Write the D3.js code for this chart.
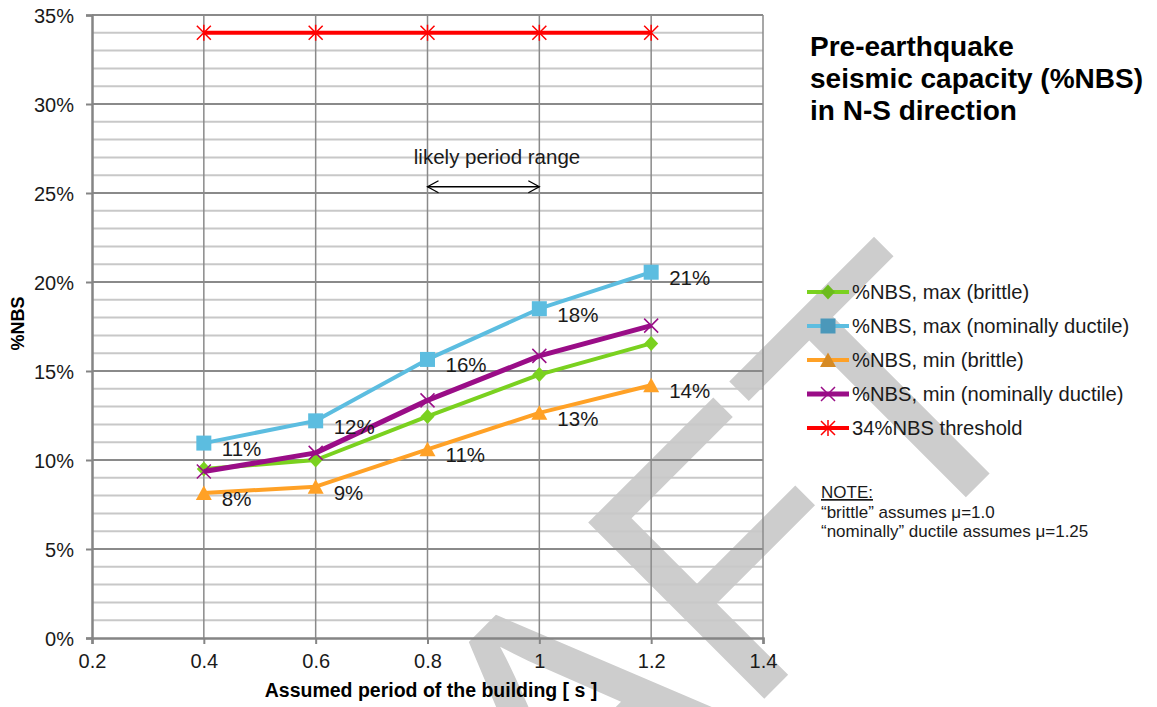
<!DOCTYPE html>
<html>
<head>
<meta charset="utf-8">
<script src="https://cdn.jsdelivr.net/npm/d3@7"></script>
<style>
  body { margin: 0; background: #fff; }
  text { font-family: "Liberation Sans", Arial, sans-serif; }
</style>
</head>
<body>
<svg id="canvas"></svg>
<script>
// data
const periods = [0.4, 0.6, 0.8, 1.0, 1.2];
const maxBrittle = [9.5, 10.0, 12.45, 14.8, 16.55];
const maxDuctile = [10.95, 12.2, 15.65, 18.5, 20.55];
const minBrittle = [8.15, 8.5, 10.6, 12.65, 14.2];
const minDuctile = [9.35, 10.4, 13.35, 15.85, 17.55];
const threshold = [34, 34, 34, 34, 34];
const maxDuctileLabels = ["11%", "12%", "16%", "18%", "21%"];
const minBrittleLabels = ["8%", "9%", "11%", "13%", "14%"];
const xTicks = [0.2, 0.4, 0.6, 0.8, 1.0, 1.2, 1.4];
const yTicks = [0, 5, 10, 15, 20, 25, 30, 35];
const seriesNames = [
    "%NBS, max (brittle)",
    "%NBS, max (nominally ductile)",
    "%NBS, min (brittle)",
    "%NBS, min (nominally ductile)",
    "34%NBS threshold"
];

const width = 1157;
const height = 707;
const svg = d3.select("#canvas").attr("width", width).attr("height", height);

const marginLeft = 92, marginRight = 394, marginTop = 15, marginBottom = 69;

const x = d3.scaleLinear().domain([0.2, 1.4]).range([marginLeft, width - marginRight]);
const y = d3.scaleLinear().domain([0, 35]).range([height - marginBottom, marginTop]);

// DRAFT watermark, sits behind everything
svg.append("text")
    .attr("transform", "translate(1056,407) rotate(-45)")
    .attr("text-anchor", "end")
    .attr("font-size", 362)
    .attr("fill", "#cdcdcd")
    .text("DRAFT");

// gridlines
const grid = svg.append("g");
grid.selectAll("line.h")
    .data(d3.range(1, 36))
    .join("line")
    .attr("x1", x(0.2)).attr("x2", x(1.4))
    .attr("y1", d => y(d)).attr("y2", d => y(d))
    .attr("stroke", d => d % 5 === 0 ? "#8a8a8a" : "#c8c8c8")
    .attr("stroke-width", 2);

grid.selectAll("line.v")
    .data(xTicks.slice(1))
    .join("line")
    .attr("x1", d => x(d)).attr("x2", d => x(d))
    .attr("y1", y(35)).attr("y2", y(0))
    .attr("stroke", "#8a8a8a")
    .attr("stroke-width", 1.5);

// axes
const xAxis = svg.append("g")
    .attr("transform", `translate(0,${y(0)})`)
    .call(d3.axisBottom(x).tickValues(xTicks).tickSize(6).tickPadding(10)
        .tickFormat(d => d3.format("")(+d.toFixed(1))));
const yAxis = svg.append("g")
    .attr("transform", `translate(${x(0.2)},0)`)
    .call(d3.axisLeft(y).tickValues(yTicks).tickSize(6).tickPadding(12)
        .tickFormat(d => d + "%"));

[xAxis, yAxis].forEach(a => {
    a.select(".domain").attr("stroke", "#858585").attr("stroke-width", 2.5);
    a.selectAll(".tick line").attr("stroke", "#858585").attr("stroke-width", 2);
    a.selectAll(".tick text")
        .attr("font-size", 20)
        .attr("fill", "#1a1a1a")
        .style("font-family", "'Liberation Sans', Arial, sans-serif");
});
yAxis.selectAll(".tick text").attr("dy", "0.36em");

// axis titles
svg.append("text")
    .attr("x", 431)
    .attr("y", 697)
    .attr("text-anchor", "middle")
    .attr("font-size", 19.5)
    .attr("font-weight", "bold")
    .text("Assumed  period of the building [ s ]");

svg.append("text")
    .attr("transform", `translate(24,${(y(0) + y(35)) / 2 - 3}) rotate(-90)`)
    .attr("text-anchor", "middle")
    .attr("font-size", 18)
    .attr("font-weight", "bold")
    .text("%NBS");

// marker shapes
const markerPath = {
    diamond: "M0,-7.5L7,0L0,7.5L-7,0Z",
    square: "M-7.5,-7.5H7.5V7.5H-7.5Z",
    triangle: "M0,-7.5L8,7L-8,7Z",
    cross: "M-7,-7L7,7M-7,7L7,-7",
    star: "M-7,-7L7,7M-7,7L7,-7M0,-8V8"
};

const series = [
    { name: seriesNames[0], values: maxBrittle, color: "#7ad11f", mark: "#6cbb1d", shape: "diamond", w: 4 },
    { name: seriesNames[1], values: maxDuctile, color: "#5cbde0", mark: "#4b98ba", shape: "square", w: 4 },
    { name: seriesNames[2], values: minBrittle, color: "#ffa126", mark: "#d68a24", shape: "triangle", w: 4 },
    { name: seriesNames[3], values: minDuctile, color: "#9a0d87", mark: "#9a0d87", shape: "cross", w: 5 },
    { name: seriesNames[4], values: threshold, color: "#ff0000", mark: "#ff0000", shape: "star", w: 4 }
];

const line = d3.line()
    .x((d, i) => x(periods[i]))
    .y(d => y(d));

const hollow = s => s === "cross" || s === "star";

series.forEach(s => {
    const g = svg.append("g");
    g.append("path")
        .attr("d", line(s.values))
        .attr("fill", "none")
        .attr("stroke", s.color)
        .attr("stroke-width", s.w)
        .attr("stroke-linejoin", "round");
    g.selectAll("path.m")
        .data(s.values)
        .join("path")
        .attr("transform", (d, i) => `translate(${x(periods[i])},${y(d)})`)
        .attr("d", markerPath[s.shape])
        .attr("fill", hollow(s.shape) ? "none" : s.color)
        .attr("stroke", hollow(s.shape) ? s.color : "none")
        .attr("stroke-width", 1.5);
});

// data labels
function addLabels(values, labels) {
    svg.append("g")
        .selectAll("text")
        .data(values)
        .join("text")
        .attr("x", (d, i) => x(periods[i]) + 18)
        .attr("y", d => y(d) + 13)
        .attr("font-size", 20.5)
        .attr("fill", "#1a1a1a")
        .text((d, i) => labels[i]);
}
addLabels(maxDuctile, maxDuctileLabels);
addLabels(minBrittle, minBrittleLabels);

// likely period range annotation
svg.append("text")
    .attr("x", 497)
    .attr("y", 164)
    .attr("text-anchor", "middle")
    .attr("font-size", 20.5)
    .attr("fill", "#1a1a1a")
    .text("likely period range");

const ay = y(25.35);
const arrow = svg.append("g").attr("stroke", "#000").attr("stroke-width", 1.3).attr("fill", "none");
arrow.append("line").attr("x1", x(0.8)).attr("x2", x(1.0)).attr("y1", ay).attr("y2", ay);
arrow.append("path").attr("d", `M${x(0.8) + 11},${ay - 6}L${x(0.8)},${ay}L${x(0.8) + 11},${ay + 6}`);
arrow.append("path").attr("d", `M${x(1.0) - 11},${ay - 6}L${x(1.0)},${ay}L${x(1.0) - 11},${ay + 6}`);

// title
svg.append("text")
    .attr("x", 810)
    .attr("font-size", 28)
    .attr("font-weight", "bold")
    .attr("fill", "#000")
    .selectAll("tspan")
    .data(["Pre-earthquake", "seismic capacity (%NBS)", "in N-S direction"])
    .join("tspan")
    .attr("x", 810)
    .attr("y", (d, i) => 56 + i * 32)
    .text(d => d);

// legend
const legend = svg.append("g");
const rowY = i => 292 + i * 34;
series.forEach((s, i) => {
    legend.append("line")
        .attr("x1", 807).attr("x2", 849)
        .attr("y1", rowY(i)).attr("y2", rowY(i))
        .attr("stroke", s.color)
        .attr("stroke-width", s.w);
    legend.append("path")
        .attr("transform", `translate(828,${rowY(i)})`)
        .attr("d", markerPath[s.shape])
        .attr("fill", hollow(s.shape) ? "none" : s.mark)
        .attr("stroke", hollow(s.shape) ? s.mark : "none")
        .attr("stroke-width", 1.5);
    legend.append("text")
        .attr("x", 852)
        .attr("y", rowY(i) + 7)
        .attr("font-size", 20.2)
        .attr("fill", "#1a1a1a")
        .text(s.name);
});

// note
const note = svg.append("g").attr("font-size", 17).attr("fill", "#1a1a1a");
note.append("text").attr("x", 821).attr("y", 498)
    .attr("text-decoration", "underline").text("NOTE:");
note.append("text").attr("x", 821).attr("y", 518).text("\u201cbrittle\u201d assumes \u03bc=1.0");
note.append("text").attr("x", 821).attr("y", 537).text("\u201cnominally\u201d ductile assumes \u03bc=1.25");
</script>
</body>
</html>
